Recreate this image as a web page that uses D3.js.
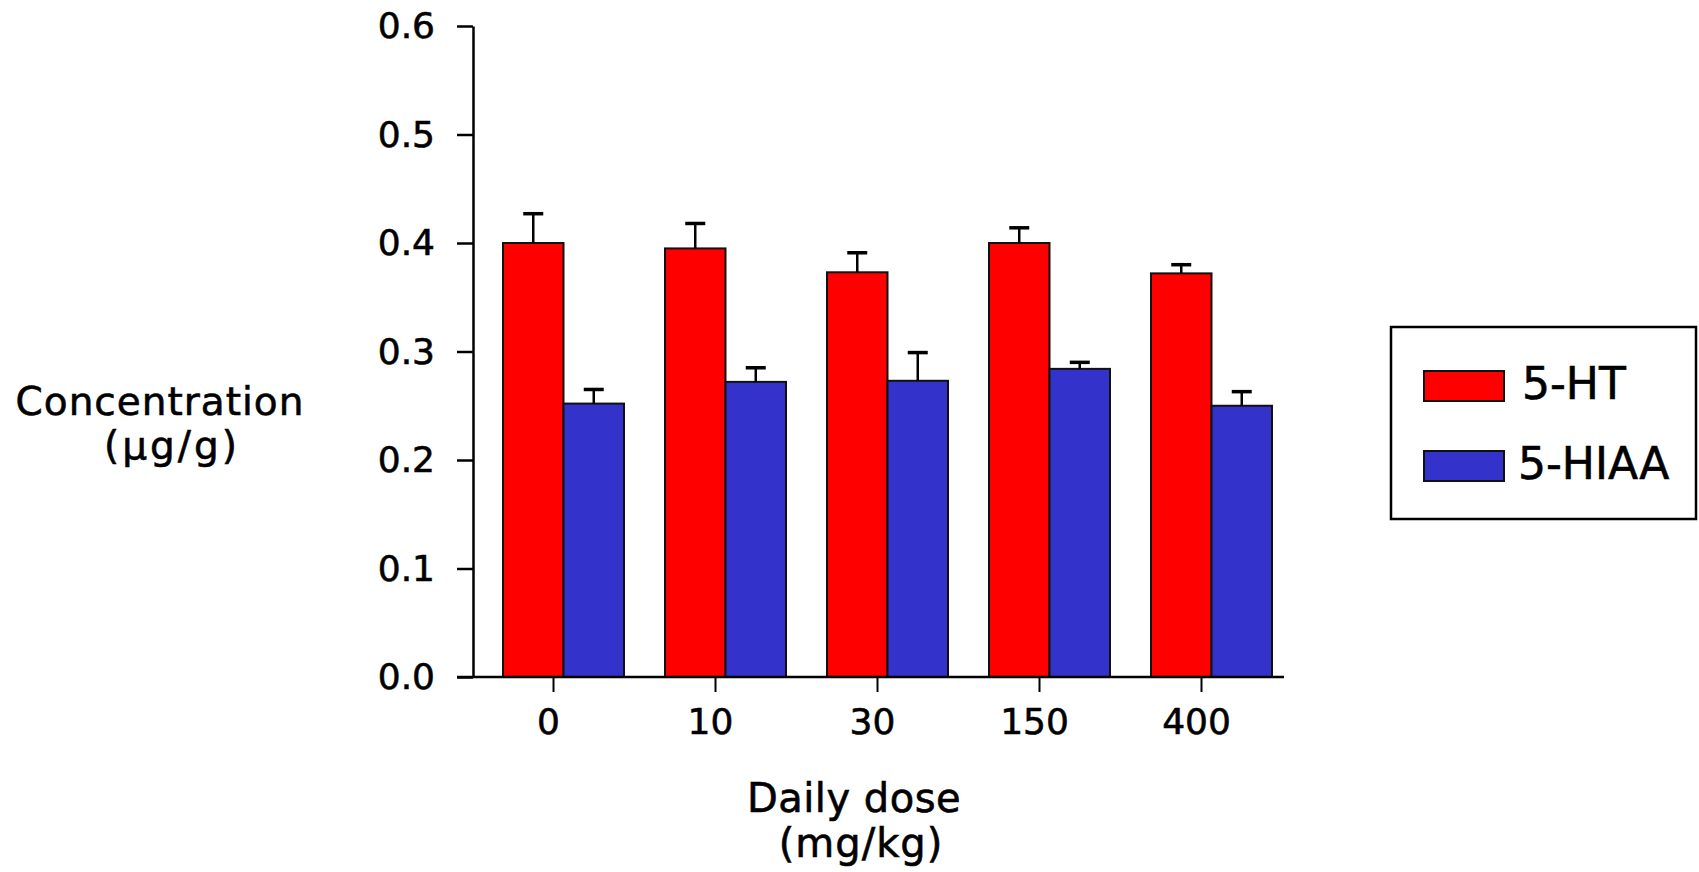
<!DOCTYPE html>
<html>
<head>
<meta charset="utf-8">
<script src="https://cdn.jsdelivr.net/npm/d3@7"></script>
<style>
  body { margin: 0; background: #fff; }
  text { font-family: "DejaVu Sans", sans-serif; fill: #000; stroke: #000; stroke-width: 0.6px; }
</style>
</head>
<body>
<div id="chart-box"></div>
<script>
// data
let doses = ["0", "10", "30", "150", "400"]
let seriesNames = ["5-HT", "5-HIAA"]
let htValues = [0.400, 0.395, 0.373, 0.400, 0.372]
let htErrors = [0.027, 0.023, 0.018, 0.014, 0.008]
let hiaaValues = [0.252, 0.272, 0.273, 0.284, 0.250]
let hiaaErrors = [0.013, 0.013, 0.026, 0.006, 0.013]
let yTicks = [0.0, 0.1, 0.2, 0.3, 0.4, 0.5, 0.6]
let colours = ["#ff0000", "#3333cc"]

function dose_graph(){

    let svgWidth = 1699
    let svgHeight = 872

    let svg = d3.select("#chart-box")
        .append("svg")
            .attr("width", svgWidth)
            .attr("height", svgHeight)

    //plot area
    let left = 473, top = 26, bottom = 677

    let y = d3.scaleLinear()
        .domain([0, 0.6])
        .range([bottom, top])

    let x0 = d3.scaleBand()
        .domain(doses)
        .range([503, 1272])
        .paddingInner(0.253)
        .paddingOuter(0)

    let x1 = d3.scaleBand()
        .domain(seriesNames)
        .range([0, x0.bandwidth()])

    let colour = d3.scaleOrdinal()
        .domain(seriesNames)
        .range(colours)

    //flatten into one row per bar
    let rows = []
    doses.forEach(function(d, i){
        rows.push({dose: d, name: seriesNames[0], value: htValues[i], err: htErrors[i]})
        rows.push({dose: d, name: seriesNames[1], value: hiaaValues[i], err: hiaaErrors[i]})
    })

    //bars
    svg.append("g")
        .selectAll("rect")
        .data(rows)
        .join("rect")
        .attr("x", d => x0(d.dose) + x1(d.name))
        .attr("y", d => y(d.value))
        .attr("width", x1.bandwidth())
        .attr("height", d => y(0) - y(d.value))
        .attr("fill", d => colour(d.name))
        .attr("stroke", "#111")
        .attr("stroke-width", 2)

    //error bars (upper only)
    let eb = svg.append("g")
        .selectAll("g")
        .data(rows)
        .join("g")
        .attr("stroke", "#000")
    eb.append("line")
        .attr("x1", d => x0(d.dose) + x1(d.name) + x1.bandwidth() / 2)
        .attr("x2", d => x0(d.dose) + x1(d.name) + x1.bandwidth() / 2)
        .attr("y1", d => y(d.value))
        .attr("y2", d => y(d.value + d.err))
        .attr("stroke-width", 2.5)
    eb.append("line")
        .attr("x1", d => x0(d.dose) + x1(d.name) + x1.bandwidth() / 2 - 10)
        .attr("x2", d => x0(d.dose) + x1(d.name) + x1.bandwidth() / 2 + 10)
        .attr("y1", d => y(d.value + d.err))
        .attr("y2", d => y(d.value + d.err))
        .attr("stroke-width", 3.5)

    //y axis
    let yAxis = svg.append("g")
        .attr("transform", `translate(${left},0)`)
        .call(d3.axisLeft(y)
            .tickValues(yTicks)
            .tickFormat(d3.format(".1f"))
            .tickSize(16)
            .tickPadding(22)
            .tickSizeOuter(0))
    yAxis.select(".domain").attr("stroke-width", 2.5)
    yAxis.selectAll(".tick line").attr("stroke-width", 2.5)
    yAxis.selectAll("text")
        .style("font-family", "DejaVu Sans")
        .style("font-size", "36px")

    //x axis, ticks sit a bit left of the group centre like the original
    svg.append("line")
        .attr("x1", left - 16)
        .attr("x2", 1284)
        .attr("y1", bottom)
        .attr("y2", bottom)
        .attr("stroke", "#000")
        .attr("stroke-width", 2.5)

    let xAxis = svg.append("g")
        .attr("transform", `translate(-10,${bottom})`)
        .call(d3.axisBottom(x0)
            .tickSize(15)
            .tickPadding(16)
            .tickSizeOuter(0))
    xAxis.select(".domain").remove()
    xAxis.selectAll(".tick line").attr("stroke-width", 2)
    xAxis.selectAll("text")
        .attr("dx", -5)
        .style("font-family", "DejaVu Sans")
        .style("font-size", "36px")

    //axis titles
    svg.append("text")
        .attr("x", 160).attr("y", 415)
        .attr("text-anchor", "middle")
        .style("font-size", "39px")
        .style("letter-spacing", "1px")
        .text("Concentration")
    svg.append("text")
        .attr("x", 172).attr("y", 459)
        .attr("text-anchor", "middle")
        .style("font-size", "39px")
        .style("letter-spacing", "3px")
        .text("(μg/g)")
    svg.append("text")
        .attr("x", 854).attr("y", 812)
        .attr("text-anchor", "middle")
        .style("font-size", "40px")
        .style("letter-spacing", "0.5px")
        .text("Daily dose")
    svg.append("text")
        .attr("x", 861).attr("y", 857)
        .attr("text-anchor", "middle")
        .style("font-size", "40px")
        .style("letter-spacing", "1px")
        .text("(mg/kg)")

    //legend
    let legend = svg.append("g")
    legend.append("rect")
        .attr("x", 1391).attr("y", 327)
        .attr("width", 305).attr("height", 192)
        .attr("fill", "none")
        .attr("stroke", "#000")
        .attr("stroke-width", 2.5)
    let items = legend.selectAll("g.item")
        .data(seriesNames)
        .join("g")
        .attr("class", "item")
        .attr("transform", (d, i) => `translate(1424,${371 + i * 80})`)
    items.append("rect")
        .attr("width", 80).attr("height", 30)
        .attr("fill", d => colour(d))
        .attr("stroke", "#111")
        .attr("stroke-width", 2)
    items.append("text")
        .attr("x", (d, i) => i == 0 ? 98 : 94)
        .attr("y", 28)
        .style("font-size", "44px")
        .text(d => d)
}

dose_graph()
</script>
</body>
</html>
